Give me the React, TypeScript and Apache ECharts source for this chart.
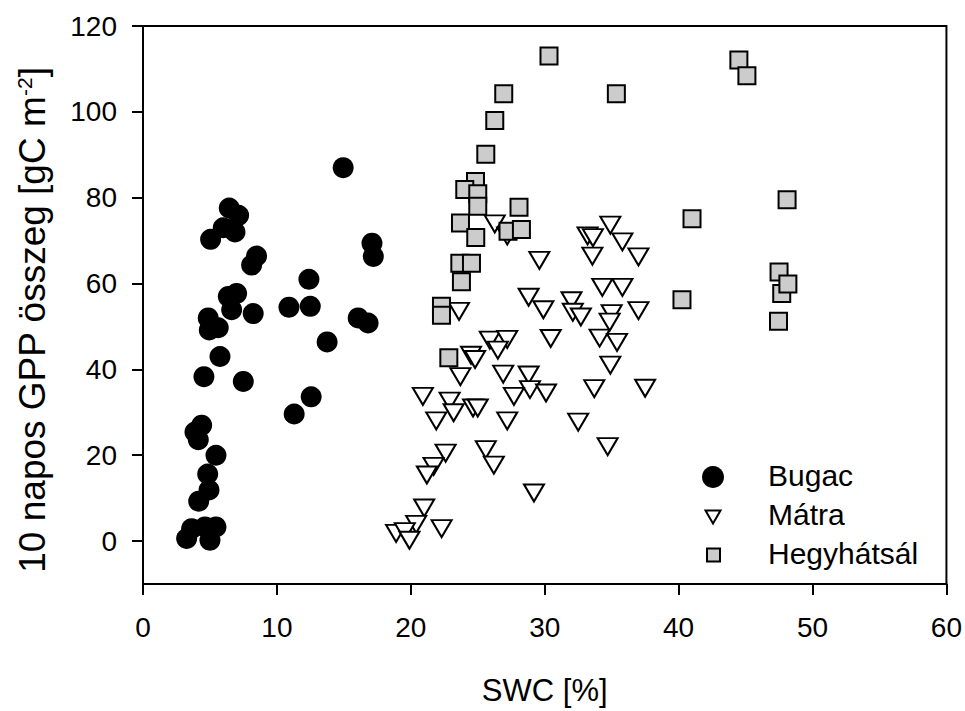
import React, { useEffect, useRef } from "react";
import * as echarts from "echarts";

const xTicks = [0, 10, 20, 30, 40, 50, 60];
const yTicks = [0, 20, 40, 60, 80, 100, 120];

const bugacSWC = [14.95, 6.44, 7.14, 5.99, 6.87, 5.05, 17.1, 17.2, 8.48, 8.11, 12.39, 6.99, 6.37, 6.62, 8.23, 10.9, 12.49, 4.87, 16.07, 16.81, 5.62, 4.95, 13.75, 5.75, 4.55, 7.49, 12.56, 11.29, 4.38, 3.88, 4.13, 5.45, 4.83, 4.93, 4.16, 3.26, 3.63, 4.63, 5.45, 5.0];
const bugacGPP = [87.0, 77.6, 75.9, 73.0, 72.0, 70.3, 69.4, 66.3, 66.4, 64.3, 61.0, 57.7, 57.0, 53.9, 53.0, 54.5, 54.7, 52.0, 52.0, 50.8, 49.7, 49.2, 46.4, 43.0, 38.3, 37.2, 33.6, 29.6, 27.0, 25.4, 23.6, 20.0, 15.6, 11.9, 9.3, 0.6, 2.9, 3.3, 3.3, 0.2];

const matraSWC = [26.27, 27.2, 34.9, 33.2, 33.6, 35.8, 33.56, 37.0, 29.6, 28.8, 29.9, 32.0, 32.1, 32.7, 34.3, 35.8, 35.0, 34.85, 37.0, 23.6, 30.45, 34.1, 35.4, 25.9, 27.2, 26.5, 24.5, 24.8, 34.9, 23.7, 26.9, 28.8, 28.9, 30.1, 27.7, 33.7, 37.5, 20.9, 22.9, 24.65, 25.0, 23.2, 21.9, 27.2, 32.5, 22.6, 25.6, 26.2, 21.7, 21.2, 34.7, 29.2, 21.0, 20.4, 22.3, 18.9, 19.55, 19.9];
const matraGPP = [73.9, 71.1, 73.6, 71.1, 70.7, 69.7, 66.4, 66.2, 65.4, 56.8, 53.9, 56.0, 53.3, 52.2, 59.1, 59.1, 53.0, 51.0, 53.7, 53.5, 47.2, 47.3, 46.3, 46.8, 47.0, 44.5, 43.3, 42.3, 41.0, 38.3, 38.9, 38.7, 35.3, 34.5, 33.7, 35.5, 35.6, 33.7, 32.6, 31.0, 31.0, 29.9, 28.0, 28.0, 27.7, 20.5, 21.3, 17.7, 17.4, 15.4, 22.0, 11.2, 7.7, 3.9, 2.9, 1.8, 2.2, 0.2];

const hegySWC = [30.32, 44.5, 45.1, 26.94, 35.35, 26.27, 25.6, 24.83, 24.03, 25.0, 25.0, 28.08, 23.71, 27.26, 28.26, 24.85, 23.66, 24.53, 23.78, 22.29, 22.29, 22.84, 48.1, 41.0, 47.5, 47.7, 48.16, 40.25, 47.46];
const hegyGPP = [113.0, 112.1, 108.4, 104.2, 104.2, 98.0, 90.1, 83.8, 81.9, 80.9, 78.0, 77.8, 74.1, 72.2, 72.6, 70.7, 64.7, 64.7, 60.4, 54.7, 52.6, 42.7, 79.5, 75.1, 62.7, 57.7, 59.9, 56.2, 51.2];

const seriesNames = ["Bugac", "Mátra", "Hegyhátsál"];

const FONT = "'Liberation Sans', Arial, sans-serif";

function pairs(xs: number[], ys: number[]) {
  return xs.map((x, i) => [x, ys[i]]);
}

export default function App() {
  const ref = useRef<HTMLDivElement>(null);
  useEffect(() => {
    if (!ref.current) return;
    const chart = echarts.init(ref.current, null, { renderer: "svg" });
    const legendTextStyle = (y: number, t: string) => ({
      type: "text",
      left: 768,
      top: y - 17,
      style: { text: t, font: `30px ${FONT}`, fill: "#000", textVerticalAlign: "top" },
    });
    chart.setOption({
      animation: false,
      backgroundColor: "#ffffff",
      textStyle: { fontFamily: FONT, color: "#000" },
      grid: {
        left: 143,
        right: 18,
        top: 26,
        bottom: 122,
        show: true,
        borderColor: "#000",
        borderWidth: 2,
        backgroundColor: "transparent",
      },
      graphic: [
        { type: "circle", shape: { cx: 713, cy: 477, r: 11 }, style: { fill: "#000" } },
        {
          type: "polygon",
          shape: { points: [[705.5, 510.5], [720.5, 510.5], [713, 523.5]] },
          style: { fill: "#fff", stroke: "#000", lineWidth: 2 },
        },
        {
          type: "rect",
          shape: { x: 707, y: 548.5, width: 13, height: 13 },
          style: { fill: "#cccccc", stroke: "#000", lineWidth: 2 },
        },
        legendTextStyle(477, seriesNames[0]),
        legendTextStyle(516, seriesNames[1]),
        legendTextStyle(555, seriesNames[2]),
      ],
      xAxis: {
        type: "value",
        min: 0,
        max: 60,
        interval: 10,
        name: "SWC [%]",
        nameLocation: "middle",
        nameGap: 91,
        nameTextStyle: { fontFamily: FONT, fontSize: 31, color: "#000" },
        axisLine: { show: true, onZero: false, lineStyle: { color: "#000", width: 2 } },
        axisTick: { show: true, inside: false, length: 11, lineStyle: { color: "#000", width: 2 }, customValues: xTicks },
        axisLabel: { fontFamily: FONT, fontSize: 28, color: "#000", margin: 29, customValues: xTicks },
        splitLine: { show: false },
      },
      yAxis: {
        type: "value",
        min: -10,
        max: 120,
        name: "10 napos GPP összeg [gC m{sup|-2}]",
        nameLocation: "middle",
        nameGap: 92,
        nameRotate: 90,
        nameTextStyle: {
          fontFamily: FONT,
          fontSize: 37,
          color: "#000",
          padding: [0, 30, 0, 0],
          rich: {
            sup: { fontFamily: FONT, fontSize: 21, color: "#000", verticalAlign: "top" },
          },
        },
        axisLine: { show: true, onZero: false, lineStyle: { color: "#000", width: 2 } },
        axisTick: { show: true, inside: false, length: 11, lineStyle: { color: "#000", width: 2 }, customValues: yTicks },
        axisLabel: { fontFamily: FONT, fontSize: 28, color: "#000", margin: 26, customValues: yTicks },
        splitLine: { show: false },
      },
      series: [
        {
          name: seriesNames[0],
          type: "scatter",
          symbol: "circle",
          symbolSize: 21,
          itemStyle: { color: "#000", borderColor: "#000", borderWidth: 0, opacity: 1 },
          data: pairs(bugacSWC, bugacGPP),
        },
        {
          name: seriesNames[1],
          type: "scatter",
          symbol: "triangle",
          symbolRotate: 180,
          symbolSize: [20, 17],
          itemStyle: { color: "#ffffff", borderColor: "#000", borderWidth: 2, opacity: 1 },
          data: pairs(matraSWC, matraGPP),
        },
        {
          name: seriesNames[2],
          type: "scatter",
          symbol: "rect",
          symbolSize: 17,
          itemStyle: { color: "#cccccc", borderColor: "#000", borderWidth: 2, opacity: 1 },
          data: pairs(hegySWC, hegyGPP),
        },
      ],
    });
    return () => chart.dispose();
  }, []);
  return <div ref={ref} style={{ position: "fixed", left: 0, top: 0, width: 965, height: 711 }} />;
}
